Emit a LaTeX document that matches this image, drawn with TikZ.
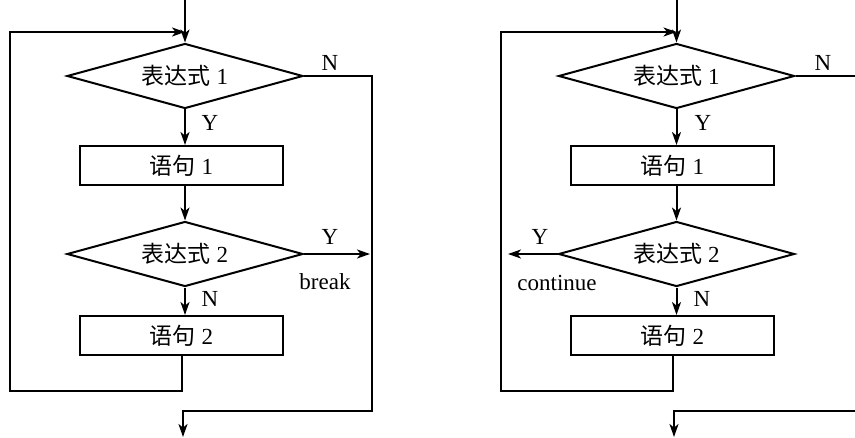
\documentclass[tikz,border=0pt]{standalone}
\usepackage{fontspec}
\setmainfont{Liberation Serif}
\newfontfamily\cjk{Noto Sans CJK SC}
\usetikzlibrary{shapes.geometric,arrows.meta}
\tikzset{
  base/.style={line width=1pt},
  arr/.style={base,-{Stealth[length=6.5pt,width=4.5pt,inset=1.8pt]}},
  dia/.style={diamond,draw,base,inner sep=0pt,aspect=3.63,minimum width=118pt,minimum height=32.5pt,font=\fontsize{11.5}{13}\selectfont},
  box/.style={rectangle,draw,base,inner sep=0pt,minimum width=101.5pt,minimum height=19.5pt,font=\fontsize{11.5}{13}\selectfont},
  lbl/.style={inner sep=0pt,font=\fontsize{11.5}{13}\selectfont}
}
\begin{document}
\begin{tikzpicture}[x=0.5pt,y=-0.5pt]
\useasboundingbox (0,0) rectangle (855,438);
% ---------- left: break ----------
\coordinate (La) at (185,0);
\node[dia] (L1) at (185,76) {{\cjk 表达式} 1};
\node[box] (LS1) at (181.5,165.5) {{\cjk 语句} 1};
\node[dia] (L2) at (185,254) {{\cjk 表达式} 2};
\node[box] (LS2) at (181.5,335.5) {{\cjk 语句} 2};
\coordinate (LBL) at (10,391);
\coordinate (LTL) at (10,32);
\coordinate (LBR) at (372,411);
\coordinate (LEnd) at (183,437);
\draw[arr] (La) -- (L1.north);
\draw[arr] (L1.south) -- (L1.south |- LS1.north);
\draw[arr] (L2.north |- LS1.south) -- (L2.north);
\draw[arr] (L2.south) -- (L2.south |- LS2.north);
\draw[arr] (LS2.south) |- (LBL) -- (LTL) -- (L1.north |- LTL);
\draw[arr] (L1.east) -| (LBR) -| (LEnd);
\draw[arr] (L2.east) -- ([xshift=-1pt]L2.east -| LBR);
\node[lbl] (LN1) at (330,63) {N};
\node[lbl] (LY1) at (210,123) {Y};
\node[lbl] (LY2) at (330,237) {Y};
\node[lbl] (LBrk) at (325,282) {break};
\node[lbl] (LN2) at (210,299) {N};
% ---------- right: continue ----------
\coordinate (Ra) at (676.5,0);
\node[dia] (R1) at (676.5,76) {{\cjk 表达式} 1};
\node[box] (RS1) at (672.5,165.5) {{\cjk 语句} 1};
\node[dia] (R2) at (676.5,254) {{\cjk 表达式} 2};
\node[box] (RS2) at (672.5,335.5) {{\cjk 语句} 2};
\coordinate (RBL) at (501,391);
\coordinate (RTL) at (501,32);
\coordinate (RTR) at (856,76);
\coordinate (RBR) at (856,411);
\coordinate (REnd) at (674,437);
\coordinate (RCont) at (508,254);
\draw[arr] (Ra) -- (R1.north);
\draw[arr] (R1.south) -- (R1.south |- RS1.north);
\draw[arr] (R2.north |- RS1.south) -- (R2.north);
\draw[arr] (R2.south) -- (R2.south |- RS2.north);
\draw[arr] (RS2.south) |- (RBL) -- (RTL) -- (R1.north |- RTL);
\draw[base] (R1.east) -- (RTR);
\draw[arr] (RBR) -| (REnd);
\draw[arr] (R2.west) -- (RCont);
\node[lbl] (RN1) at (823,63) {N};
\node[lbl] (RY1) at (703,123) {Y};
\node[lbl] (RY2) at (540,237) {Y};
\node[lbl] (RCnt) at (557,283) {continue};
\node[lbl] (RN2) at (702,299) {N};
\end{tikzpicture}
\end{document}
